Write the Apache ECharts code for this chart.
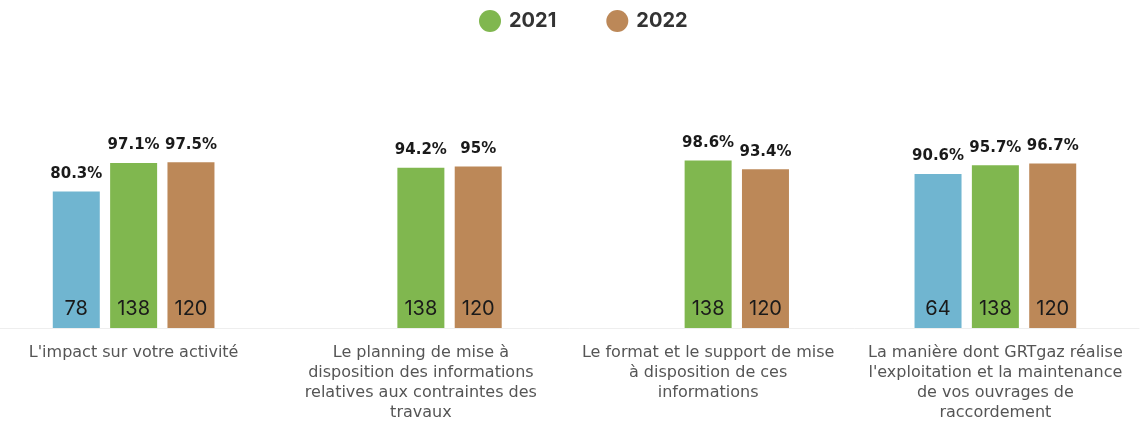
<!DOCTYPE html>
<html>
<head>
<meta charset="utf-8">
<script src="https://cdn.jsdelivr.net/npm/echarts@6/dist/echarts.min.js"></script>
<style>
  html, body { margin: 0; padding: 0; background: #fff; }
  #chart { width: 1145px; height: 422px; }
</style>
</head>
<body>
<div id="chart"></div>
<script>
const categories = [
  "L'impact sur votre activité",
  'Le planning de mise à\ndisposition des informations\nrelatives aux contraintes des\ntravaux',
  'Le format et le support de mise\nà disposition de ces\ninformations',
  "La manière dont GRTgaz réalise\nl'exploitation et la maintenance\nde vos ouvrages de\nraccordement"
]
// satisfaction (%) par groupe
const pctBlue = [80.3, null, null, 90.6]
const pct2021 = [97.1, 94.2, 98.6, 95.7]
const pct2022 = [97.5, 95, 93.4, 96.7]
// nombre de répondants
const countBlue = [78, null, null, 64]
const count2021 = [138, 138, 138, 138]
const count2022 = [120, 120, 120, 120]

const FONT = 'Inter'
const LABEL_FONT = 'DejaVu Sans'
const chart = echarts.init(document.getElementById('chart'))

// une pile par barre : socle de hauteur 0 (porte le nombre) + barre du pourcentage
function pair (name, stack, color, pct, count) {
  return [
    {
      name,
      type: 'bar',
      stack,
      barWidth: 47,
      barGap: '22%',
      itemStyle: { color },
      data: count.map(c => (c == null ? null : 0)),
      label: {
        show: true,
        position: 'top',
        distance: 9,
        color: '#1a1a1a',
        fontFamily: FONT,
        fontSize: 20,
        formatter: p => count[p.dataIndex]
      },
      z: 3
    },
    {
      name,
      type: 'bar',
      stack,
      barWidth: 47,
      barGap: '22%',
      itemStyle: { color },
      data: pct,
      label: {
        show: true,
        position: 'top',
        distance: 10,
        color: '#1a1a1a',
        fontFamily: LABEL_FONT,
        fontWeight: 'bold',
        fontSize: 15,
        formatter: p => p.value + '%'
      },
      z: 2
    }
  ]
}

chart.setOption({
  animation: false,
  legend: {
    data: ['2021', '2022'],
    top: 5,
    left: 474,
    icon: 'circle',
    itemWidth: 22,
    itemHeight: 22,
    itemGap: 50,
    textStyle: {
      fontFamily: FONT,
      fontSize: 20,
      fontWeight: 'bold',
      color: '#333',
      padding: [0, 0, 0, 3]
    }
  },
  grid: { left: -10, right: 6, top: 158, bottom: 94, outerBoundsMode: 'none' },
  xAxis: {
    type: 'category',
    data: categories,
    axisTick: { show: false },
    axisLine: { lineStyle: { color: '#eeeeee' } },
    axisLabel: {
      interval: 0,
      margin: 15,
      color: '#555',
      fontFamily: LABEL_FONT,
      fontSize: 16,
      lineHeight: 20
    }
  },
  yAxis: {
    type: 'value',
    min: 0,
    max: 100,
    show: false,
    splitLine: { show: false }
  },
  series: [
    ...pair('2020', 'b', '#70b5d0', pctBlue, countBlue),
    ...pair('2021', 'g', '#80b74f', pct2021, count2021),
    ...pair('2022', 'm', '#bc8858', pct2022, count2022)
  ]
})
</script>
</body>
</html>
